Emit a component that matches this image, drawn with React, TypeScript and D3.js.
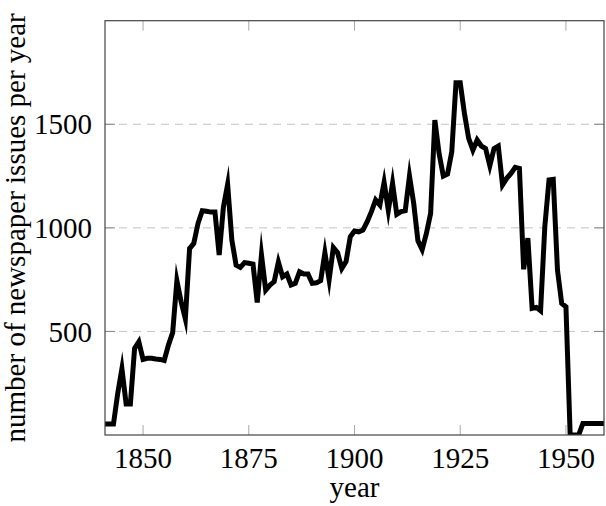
import React from "react";
import * as d3 from "d3";

const startYear = 1841;
const issues: number[] = [
  53, 53, 53, 200, 320, 150, 150, 418, 450, 365, // 1841-1850
  370, 370, 367, 365, 360, 434, 494, 745, 643, 560, // 1851-1860
  900, 925, 1022, 1083, 1080, 1076, 1076, 869, 1100, 1210, // 1861-1870
  941, 820, 809, 832, 829, 825, 640, 870, 700, 724, // 1871-1880
  740, 835, 764, 777, 724, 732, 788, 777, 777, 732, // 1881-1890
  735, 745, 880, 750, 905, 880, 804, 837, 957, 985, // 1891-1900
  981, 989, 1030, 1078, 1135, 1110, 1220, 1085, 1215, 1065, // 1901-1910
  1078, 1083, 1250, 1118, 938, 895, 973, 1070, 1520, 1359, // 1911-1920
  1250, 1260, 1367, 1700, 1700, 1552, 1432, 1375, 1424, 1395, // 1921-1930
  1383, 1300, 1383, 1395, 1207, 1239, 1263, 1292, 1287, 800, // 1931-1940
  950, 611, 616, 600, 1005, 1231, 1234, 796, 635, 619, // 1941-1950
  0, 0, 0, 55, 55, 55, 55, 55, 55, // 1951-1959
];
const years: number[] = issues.map((_, i) => startYear + i);
const xTicks: number[] = [1850, 1875, 1900, 1925, 1950];
const yTicks: number[] = [500, 1000, 1500];
const xLabel = "year";
const yLabel = "number of newspaper issues per year";

const W = 606;
const H = 506;
const left = 105;
const right = 604;
const top = 20.7;
const bottom = 435;
const font = "'Liberation Serif', 'DejaVu Serif', serif";
const fs = 29;

export default function App() {
  const x = d3.scaleLinear().domain([1841, 1959]).range([left, right]);
  const y = d3.scaleLinear().domain([0, 2000]).range([bottom, top]);
  const line = d3
    .line<number>()
    .x((_, i) => x(years[i]))
    .y((d) => y(d));

  return (
    <svg
      width={W}
      height={H}
      style={{ position: "absolute", left: 0, top: 0, background: "#fff" }}
    >
      <defs>
        <clipPath id="plotclip">
          <rect x={left} y={top} width={right - left} height={bottom - top} />
        </clipPath>
      </defs>
      {yTicks.map((t) => (
        <line
          key={"g" + t}
          x1={left}
          x2={right}
          y1={y(t)}
          y2={y(t)}
          stroke="#c4c4c4"
          strokeWidth={1}
          strokeDasharray="8,6"
        />
      ))}
      {xTicks.map((t) => (
        <g key={"xt" + t}>
          <line x1={x(t)} x2={x(t)} y1={bottom} y2={bottom - 10} stroke="#aaa" strokeWidth={1} />
          <line x1={x(t)} x2={x(t)} y1={top} y2={top + 10} stroke="#aaa" strokeWidth={1} />
          <text
            x={x(t)}
            y={bottom + 33}
            textAnchor="middle"
            fontFamily={font}
            fontSize={fs}
            fill="#000"
          >
            {t}
          </text>
        </g>
      ))}
      {yTicks.map((t) => (
        <g key={"yt" + t}>
          <line x1={left} x2={left + 10} y1={y(t)} y2={y(t)} stroke="#888" strokeWidth={1} />
          <line x1={right} x2={right - 10} y1={y(t)} y2={y(t)} stroke="#888" strokeWidth={1} />
          <text
            x={left - 13}
            y={y(t)}
            dy="0.35em"
            textAnchor="end"
            fontFamily={font}
            fontSize={fs}
            fill="#000"
          >
            {t}
          </text>
        </g>
      ))}
      <path
        d={line(issues) || ""}
        fill="none"
        stroke="#000"
        strokeWidth={5}
        strokeLinejoin="miter"
        strokeMiterlimit={10}
        clipPath="url(#plotclip)"
      />
      <rect
        x={left}
        y={top}
        width={right - left}
        height={bottom - top}
        fill="none"
        stroke="#444"
        strokeWidth={1.2}
      />
      <text
        x={(left + right) / 2}
        y={497}
        textAnchor="middle"
        fontFamily={font}
        fontSize={fs}
        fill="#000"
      >
        {xLabel}
      </text>
      <text
        transform={`translate(25, ${(top + bottom) / 2}) rotate(-90)`}
        textAnchor="middle"
        fontFamily={font}
        fontSize={fs}
        fill="#000"
      >
        {yLabel}
      </text>
    </svg>
  );
}
